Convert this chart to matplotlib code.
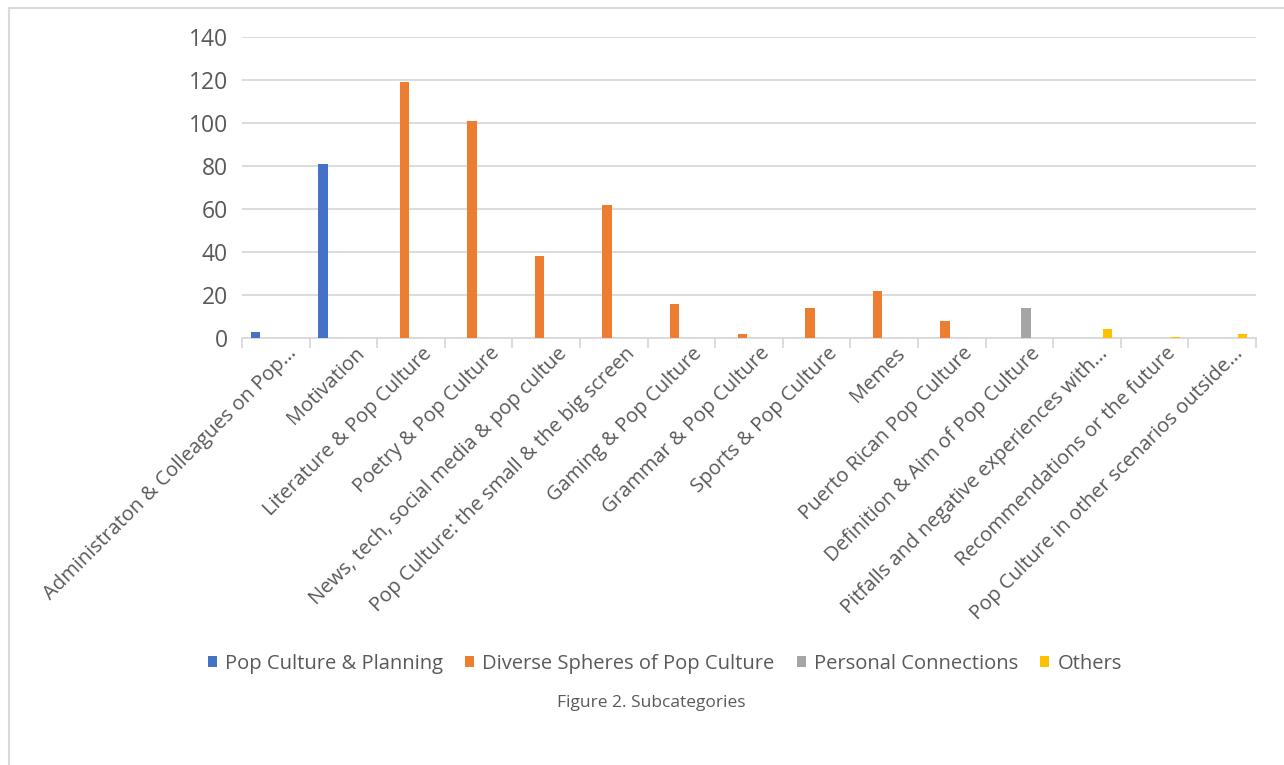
import numpy as np
import matplotlib
matplotlib.use("Agg")
import matplotlib.pyplot as plt
from matplotlib.lines import Line2D
from matplotlib.transforms import ScaledTranslation

categories = [
  "Administraton & Colleagues on Pop...", "Motivation", "Literature & Pop Culture",
  "Poetry & Pop Culture", "News, tech, social media & pop cultue",
  "Pop Culture: the small & the big screen", "Gaming & Pop Culture",
  "Grammar & Pop Culture", "Sports & Pop Culture", "Memes",
  "Puerto Rican Pop Culture", "Definition & Aim of Pop Culture",
  "Pitfalls and negative experiences with...", "Recommendations or the future",
  "Pop Culture in other scenarios outside...",
]

series_names = ["Pop Culture & Planning", "Diverse Spheres of Pop Culture",
                "Personal Connections", "Others"]

# one value per category, None where a series has no bar
planning = [3, 81, None, None, None, None, None, None, None, None, None, None, None, None, None]
spheres = [None, None, 119, 101, 38, 62, 16, 2, 14, 22, 8, None, None, None, None]
personal = [None, None, None, None, None, None, None, None, None, None, None, 14, None, None, None]
others = [None, None, None, None, None, None, None, None, None, None, None, None, 4, 0.5, 2]

colors = ["#4472C4", "#ED7D31", "#A5A5A5", "#FFC000"]
yticks = [0, 20, 40, 60, 80, 100, 120, 140]

W, H = 1284, 765
fig = plt.figure(figsize=(W / 100, H / 100), dpi=100, facecolor="w")
ax = fig.add_axes([242 / W, 1 - 338 / H, (1256 - 242) / W, (338 - 37) / H])

index = np.arange(len(categories))
offsets = [-0.3, -0.1, 0.1, 0.3]
width = 0.14
text_col = "#595959"

for vals, off, col, name in zip([planning, spheres, personal, others], offsets, colors, series_names):
  xs = [i + off for i, v in zip(index, vals) if v is not None]
  hs = [v for v in vals if v is not None]
  ax.bar(xs, hs, width, color=col, label=name, zorder=3)

ax.set_xlim(-0.5, len(categories) - 0.5)
ax.set_ylim(0, 140)
ax.set_yticks(yticks)
ax.set_yticklabels(yticks, fontsize=16.5, color=text_col, family="Open Sans")
ax.grid(axis="y", color="#D9D9D9", linewidth=1.3, zorder=0)
ax.set_axisbelow(True)
for s in ["top", "right", "left"]:
  ax.spines[s].set_visible(False)
ax.spines["bottom"].set_color("#D9D9D9")
ax.spines["bottom"].set_linewidth(1.3)
ax.tick_params(axis="y", length=0, pad=10)

# category boundary ticks
ax.set_xticks(np.arange(len(categories) + 1) - 0.5, minor=True)
ax.tick_params(axis="x", which="minor", length=7, color="#D9D9D9", width=1.3, direction="out")
ax.set_xticks(index)
ax.set_xticklabels(categories, rotation=45, ha="right", rotation_mode="anchor",
                   fontsize=14.5, color=text_col, family="Open Sans")
ax.tick_params(axis="x", which="major", length=0, pad=4)
shift = ScaledTranslation(11 / 100, 0, fig.dpi_scale_trans)
for lbl in ax.get_xticklabels():
  lbl.set_transform(lbl.get_transform() + shift)

leg = fig.legend(loc="center", bbox_to_anchor=(665 / W, 1 - 664 / H), ncol=4, frameon=False,
                 handlelength=0.45, handleheight=0.45, handletextpad=0.4,
                 columnspacing=1.1, prop={"family": "Open Sans", "size": 14.5})
for t in leg.get_texts():
  t.set_color(text_col)

fig.text(651 / W, 1 - 703 / H, "Figure 2. Subcategories", ha="center", va="center",
         fontsize=12.5, color=text_col, family="Open Sans")

# outer chart border (only top and left fall inside the image)
fig.add_artist(Line2D([9 / W, 9 / W], [0, 1 - 8 / H], transform=fig.transFigure, color="#D9D9D9", linewidth=1.5))
fig.add_artist(Line2D([9 / W, 1], [1 - 8 / H, 1 - 8 / H], transform=fig.transFigure, color="#D9D9D9", linewidth=1.5))

fig.savefig("out.png", dpi=100)
